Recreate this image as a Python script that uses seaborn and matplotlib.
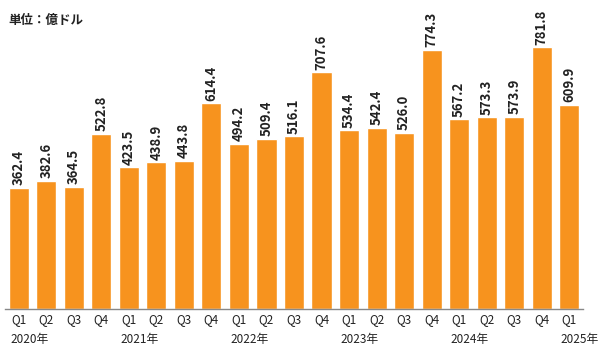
import numpy as np
import pandas as pd
import matplotlib
matplotlib.use("Agg")
import matplotlib.pyplot as plt
import seaborn as sns

quarters = ["Q1", "Q2", "Q3", "Q4"] * 5 + ["Q1"]
years = ["2020年", "2021年", "2022年", "2023年", "2024年", "2025年"]
values = [362.4, 382.6, 364.5, 522.8,
          423.5, 438.9, 443.8, 614.4,
          494.2, 509.4, 516.1, 707.6,
          534.4, 542.4, 526.0, 774.3,
          567.2, 573.3, 573.9, 781.8,
          609.9]

sns.set_style("white")
plt.rcParams['font.family'] = ['Noto Sans CJK JP', 'DejaVu Sans']

df = pd.DataFrame({"pos": [str(i) for i in range(len(values))], "value": values})

fig = plt.figure(figsize=(6, 3.55), dpi=100)
ax = fig.add_axes([5 / 600, 46 / 355, 578 / 600, 286 / 355])

sns.barplot(data=df, x="pos", y="value", color="#F7931E", saturation=1,
            width=0.73, ax=ax)

ax.set_ylim(0, 855)
ax.set_xlim(-0.5, len(values) - 0.5)
ax.set_xlabel("")
ax.set_ylabel("")
ax.set_yticks([])
ax.set_xticks(range(len(values)))
ax.set_xticklabels(quarters, fontsize=8.5, color="#222222")
ax.tick_params(axis="x", length=0, pad=3)
for s in ["left", "right", "top"]:
    ax.spines[s].set_visible(False)
ax.spines["bottom"].set_color("#888888")
ax.spines["bottom"].set_linewidth(1)

for i, v in enumerate(values):
    ax.text(i, v + 8, f"{v:.1f}", rotation=90, ha="center", va="bottom",
            fontsize=9.5, fontweight="bold", color="#222222")

year_pos = [0, 4, 8, 12, 16, 20]
for p, y in zip(year_pos, years):
    ax.text(p - 0.3, -0.085, y, transform=ax.get_xaxis_transform(),
            ha="left", va="top", fontsize=8.5, color="#222222")

fig.text(8 / 600, 1 - 20 / 355, "単位：億ドル", ha="left", va="center",
         fontsize=9, fontweight="bold", color="#222222")

fig.savefig("out.png", dpi=100, facecolor="white")
